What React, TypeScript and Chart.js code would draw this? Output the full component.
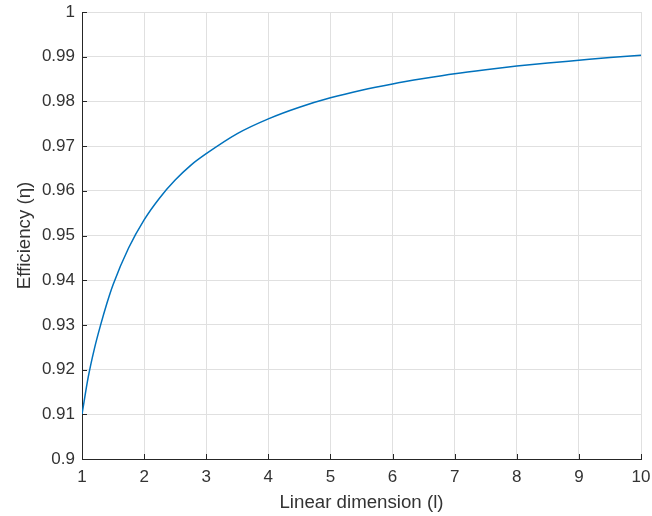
import React, { useEffect, useRef } from "react";
import { Chart, registerables } from "chart.js";

Chart.register(...registerables);

const lengths = [1, 1.1, 1.2, 1.3, 1.4, 1.5, 1.75, 2, 2.25, 2.5, 2.75, 3, 3.5, 4, 4.5, 5, 5.5, 6, 6.5, 7, 7.5, 8, 8.5, 9, 9.5, 10];
const efficiency = [0.91, 0.9183, 0.9247, 0.93, 0.9348, 0.939, 0.9472, 0.9535, 0.9584, 0.9624, 0.9657, 0.9683, 0.9728, 0.9761, 0.9787, 0.9808, 0.9825, 0.9839, 0.9851, 0.9862, 0.9871, 0.9879, 0.9886, 0.9892, 0.9898, 0.9903];
const xTicks = [1, 2, 3, 4, 5, 6, 7, 8, 9, 10];
const yTicks = [0.9, 0.91, 0.92, 0.93, 0.94, 0.95, 0.96, 0.97, 0.98, 0.99, 1];

const FONT = "'Liberation Sans', Arial, Helvetica, sans-serif";
const AXIS = "#262626";

const innerTicks = {
  id: "innerTicks",
  afterDatasetsDraw(chart: any) {
    const { ctx, chartArea, scales } = chart;
    ctx.save();
    ctx.strokeStyle = AXIS;
    ctx.lineWidth = 1;
    ctx.beginPath();
    for (const v of xTicks) {
      const x = Math.round(scales.x.getPixelForValue(v)) + 0.5;
      ctx.moveTo(x, chartArea.bottom);
      ctx.lineTo(x, chartArea.bottom - 5);
    }
    for (const v of yTicks) {
      const y = Math.round(scales.y.getPixelForValue(v)) + 0.5;
      ctx.moveTo(chartArea.left, y);
      ctx.lineTo(chartArea.left + 5, y);
    }
    ctx.stroke();
    ctx.restore();
  },
};

export default function App() {
  const ref = useRef<HTMLCanvasElement>(null);
  useEffect(() => {
    if (!ref.current) return;
    const chart = new Chart(ref.current, {
      type: "line",
      data: {
        datasets: [
          {
            data: lengths.map((l, i) => ({ x: l, y: efficiency[i] })),
            borderColor: "#0072BD",
            borderWidth: 1.5,
            pointRadius: 0,
            cubicInterpolationMode: "monotone",
            fill: false,
          },
        ],
      },
      options: {
        animation: false,
        responsive: true,
        maintainAspectRatio: false,
        layout: { padding: { top: 12, right: 11, bottom: 0, left: 0 } },
        plugins: { legend: { display: false }, tooltip: { enabled: false } },
        scales: {
          x: {
            type: "linear",
            min: 1,
            max: 10,
            afterFit: (s: any) => { s.height = 57; s.paddingLeft = 0; s.paddingRight = 0; },
            afterBuildTicks: (s: any) => { s.ticks = xTicks.map((v) => ({ value: v })); },
            grid: { color: "#e0e0e0", drawTicks: false },
            border: { color: AXIS, width: 1 },
            ticks: {
              padding: 8,
              color: "#333",
              font: { family: FONT, size: 17 },
              callback: (v: any) => String(v),
            },
            title: {
              display: true,
              text: "Linear dimension (l)",
              color: "#333",
              font: { family: FONT, size: 18.7 },
              padding: { top: 0, bottom: 2 },
            },
          },
          y: {
            type: "linear",
            min: 0.9,
            max: 1,
            afterFit: (s: any) => { s.width = 82; s.paddingTop = 0; s.paddingBottom = 0; },
            afterBuildTicks: (s: any) => { s.ticks = yTicks.map((v) => ({ value: v })); },
            grid: { color: "#e0e0e0", drawTicks: false },
            border: { color: AXIS, width: 1 },
            ticks: {
              padding: 7,
              color: "#333",
              font: { family: FONT, size: 17 },
              callback: (v: any) => String(parseFloat(Number(v).toFixed(2))),
            },
            title: {
              display: true,
              text: "Efficiency (η)",
              color: "#333",
              font: { family: FONT, size: 18.7 },
              padding: { top: 14, bottom: 0 },
            },
          },
        },
      },
      plugins: [innerTicks],
    });
    return () => chart.destroy();
  }, []);
  return (
    <div style={{ position: "fixed", left: 0, top: 0, width: 652, height: 516, background: "#fff" }}>
      <canvas ref={ref} />
    </div>
  );
}
